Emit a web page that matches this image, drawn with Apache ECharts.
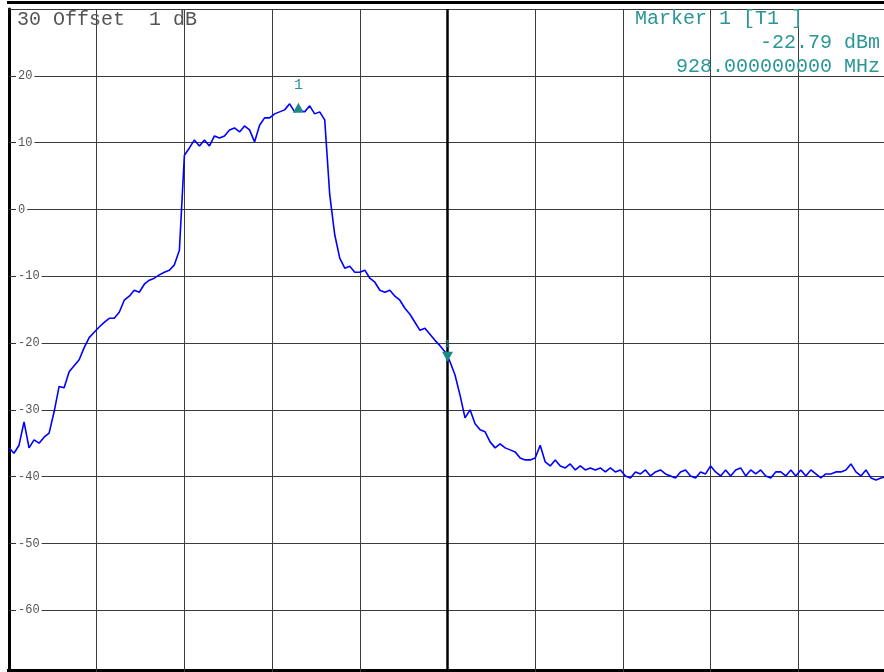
<!DOCTYPE html>
<html>
<head>
<meta charset="utf-8">
<script src="https://cdn.jsdelivr.net/npm/echarts@6/dist/echarts.min.js"></script>
<style>
  html, body { margin: 0; padding: 0; background: #fff; }
  #spec { width: 884px; height: 672px; }
</style>
</head>
<body>
<div id="spec"></div>
<script>
// sweep: 923 .. 933 MHz, center 928 MHz
var freqStart = 923;
var freqStop = 933;
var refLevel = 30;
var bottomLevel = -70;
var centerFreq = 928;

// trace levels (dBm), equally spaced sweep points
var levels = [
	-35.7, -36.5, -35.3, -31.8, -35.7, -34.5, -35.0, -34.1, -33.5, -30.3,
	-26.5, -26.7, -24.3, -23.4, -22.5, -20.7, -19.2, -18.4, -17.6, -16.9,
	-16.3, -16.3, -15.4, -13.6, -13.0, -12.1, -12.4, -11.2, -10.6, -10.3,
	-9.8, -9.4, -9.1, -8.3, -6.1, 8.1, 9.2, 10.4, 9.5, 10.4,
	9.5, 11.0, 10.7, 11.0, 11.9, 12.2, 11.6, 12.5, 11.9, 10.1,
	12.6, 13.7, 13.7, 14.3, 14.6, 14.9, 15.8, 14.6, 14.9, 14.6,
	15.5, 14.3, 14.6, 13.4, 2.2, -3.8, -7.3, -8.8, -8.5, -9.4,
	-9.4, -9.1, -10.3, -10.9, -12.1, -12.4, -12.1, -13.0, -13.6, -14.8,
	-15.7, -16.9, -18.1, -17.8, -18.7, -19.6, -20.4, -21.3, -22.8, -24.8,
	-27.8, -31.2, -30.0, -32.1, -33.0, -33.3, -34.8, -35.7, -35.1, -35.7,
	-36.0, -36.3, -37.2, -37.5, -37.5, -37.2, -35.3, -37.8, -38.4, -37.5,
	-38.4, -38.7, -38.1, -39.0, -38.4, -39.0, -38.7, -39.0, -38.7, -39.3,
	-38.7, -39.3, -39.0, -39.9, -40.2, -39.3, -39.6, -39.0, -39.9, -39.3,
	-39.0, -39.6, -39.9, -40.2, -39.3, -39.0, -39.9, -40.2, -39.3, -39.6,
	-38.4, -39.3, -39.9, -39.0, -39.9, -39.0, -38.7, -39.9, -39.0, -39.6,
	-39.0, -39.9, -40.2, -39.3, -39.3, -39.9, -39.0, -39.9, -39.0, -39.9,
	-39.0, -39.6, -40.2, -39.6, -39.6, -39.3, -39.3, -39.0, -38.1, -39.3,
	-39.9, -39.0, -40.2, -40.5, -40.2, -40.0
];

// markers
var marker1 = [928, -22.79];
var peakMarker = [926.3, 15.2];

var mono = '"Liberation Mono", "DejaVu Sans Mono", monospace';
var teal = '#2b9696';

var step = (freqStop - freqStart) / (levels.length - 1);
var trace = levels.map(function (v, i) {
	return [freqStart + i * step, v];
});

var myChart = echarts.init(document.getElementById('spec'));
option = {
	animation: false,
	title: [{
		text: String(refLevel),
		left: 15,
		top: 10,
		padding: [0, 2, 0, 2],
		backgroundColor: '#fff',
		textStyle: { fontFamily: mono, fontSize: 20, fontWeight: 'normal', color: '#555' }
	}, {
		text: 'Offset  1 dB',
		left: 53,
		top: 10,
		padding: 0,
		textStyle: { fontFamily: mono, fontSize: 20, fontWeight: 'normal', color: '#555' }
	}, {
		text: 'Marker 1 [T1 ]',
		left: 635,
		top: 9,
		padding: 0,
		textStyle: { fontFamily: mono, fontSize: 20, fontWeight: 'normal', color: teal }
	}, {
		text: marker1[1].toFixed(2) + ' dBm',
		right: 4,
		top: 33,
		padding: 0,
		textStyle: { fontFamily: mono, fontSize: 20, fontWeight: 'normal', color: teal }
	}, {
		text: marker1[0].toFixed(9) + ' MHz',
		right: 4,
		top: 57,
		padding: 0,
		textStyle: { fontFamily: mono, fontSize: 20, fontWeight: 'normal', color: teal }
	}],
	grid: {
		left: 9,
		top: 9,
		width: 877,
		height: 668,
		outerBoundsMode: 'none',
		containLabel: false
	},
	xAxis: {
		type: 'value',
		min: freqStart,
		max: freqStop,
		interval: 1,
		axisLine: { show: false },
		axisTick: { show: false },
		axisLabel: { show: false },
		splitLine: { show: true, lineStyle: { color: '#3c3c3c', width: 1 } }
	},
	yAxis: {
		type: 'value',
		min: bottomLevel,
		max: refLevel,
		interval: 10,
		axisLine: { show: true, lineStyle: { color: '#000', width: 3 } },
		axisTick: { show: true, inside: true, length: 6, lineStyle: { color: '#333', width: 1 } },
		axisLabel: {
			inside: true,
			margin: 7,
			color: '#555',
			fontFamily: mono,
			fontSize: 12,
			backgroundColor: '#fff',
			padding: [0, 2, 0, 2],
			formatter: function (v) {
				if (v === refLevel || v === bottomLevel) return '';
				return String(v);
			}
		},
		splitLine: { show: true, lineStyle: { color: '#3c3c3c', width: 1 } }
	},
	series: [{
		type: 'line',
		data: trace,
		showSymbol: false,
		silent: true,
		lineStyle: { color: '#0000ff', width: 1.6 },
		markLine: {
			silent: true,
			symbol: 'none',
			label: { show: false },
			lineStyle: { color: '#000', width: 2.5, type: 'solid' },
			data: [{ xAxis: centerFreq }]
		},
		markPoint: {
			silent: true,
			itemStyle: { color: '#1d8a8a' },
			label: { show: true, position: 'top', color: teal, fontFamily: mono },
			data: [{
				coord: marker1,
				symbol: 'triangle',
				symbolRotate: 180,
				symbolSize: [11, 10],
				symbolOffset: [0, -5],
				label: { formatter: '1', fontSize: 10, distance: 2 }
			}, {
				coord: peakMarker,
				symbol: 'triangle',
				symbolSize: [11, 10],
				label: { formatter: '1', fontSize: 15, distance: 10 }
			}]
		}
	}],
	graphic: [{
		type: 'line',
		shape: { x1: 7, y1: 2.5, x2: 884, y2: 2.5 },
		style: { stroke: '#000', lineWidth: 3 },
		silent: true
	}, {
		type: 'line',
		shape: { x1: 7, y1: 670.5, x2: 884, y2: 670.5 },
		style: { stroke: '#000', lineWidth: 3 },
		silent: true
	}]
};
myChart.setOption(option);
window.onresize = myChart.resize;
</script>
</body>
</html>
